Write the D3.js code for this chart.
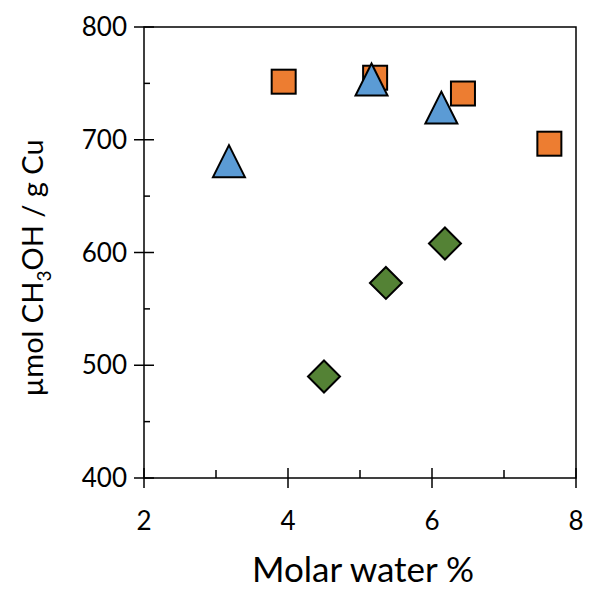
<!DOCTYPE html>
<html>
<head>
<meta charset="utf-8">
<script src="https://cdn.jsdelivr.net/npm/d3@7"></script>
<style>
  body { margin: 0; background: #fff; }
  text { font-family: Lato, "Open Sans", sans-serif; fill: #000; }
</style>
</head>
<body>
<svg id="chart" width="592" height="592"></svg>
<script>
// values
const squaresX = [3.94, 5.21, 6.43, 7.63];
const squaresY = [751.5, 755, 741, 696.5];
const trianglesX = [3.18, 5.16, 6.13];
const trianglesY = [681, 753.5, 728.5];
const diamondsX = [4.5, 5.36, 6.18];
const diamondsY = [490, 573, 608];

const xTicks = [2, 4, 6, 8];
const xMinor = [3, 5, 7];
const yTicks = [400, 500, 600, 700, 800];
const yMinor = [450, 550, 650, 750];

const svg = d3.select("#chart");
const x = d3.scaleLinear().domain([2, 8]).range([144, 576]);
const y = d3.scaleLinear().domain([400, 800]).range([478, 27]);

// frame
svg.append("rect")
  .attr("x", x(2)).attr("y", y(800))
  .attr("width", x(8) - x(2)).attr("height", y(400) - y(800))
  .attr("fill", "none").attr("stroke", "#000").attr("stroke-width", 1.5);

const ticks = svg.append("g").attr("stroke", "#000").attr("stroke-width", 1.5);
xTicks.forEach((d) => {
  ticks.append("line").attr("x1", x(d)).attr("x2", x(d))
    .attr("y1", y(400) - 10).attr("y2", y(400) + 10);
});
xMinor.forEach((d) => {
  ticks.append("line").attr("x1", x(d)).attr("x2", x(d))
    .attr("y1", y(400) - 8).attr("y2", y(400));
});
yTicks.forEach((d) => {
  ticks.append("line").attr("y1", y(d)).attr("y2", y(d))
    .attr("x1", x(2) - 10).attr("x2", x(2) + 10);
});
yMinor.forEach((d) => {
  ticks.append("line").attr("y1", y(d)).attr("y2", y(d))
    .attr("x1", x(2)).attr("x2", x(2) + 6);
});

// tick labels
svg.append("g").selectAll("text").data(xTicks).join("text")
  .attr("x", (d) => x(d)).attr("y", 530)
  .attr("text-anchor", "middle").style("font-size", "26px")
  .text((d) => d);
svg.append("g").selectAll("text").data(yTicks).join("text")
  .attr("x", 127).attr("y", (d) => y(d) + 9)
  .attr("text-anchor", "end").style("font-size", "26px")
  .text((d) => d);

// axis titles
svg.append("text")
  .attr("x", 363).attr("y", 582)
  .attr("text-anchor", "middle").style("font-size", "35px")
  .text("Molar water %");

const yl = svg.append("text")
  .attr("transform", "translate(43,268) rotate(-90)")
  .attr("text-anchor", "middle").style("font-size", "29px");
yl.append("tspan").text("µmol CH");
yl.append("tspan").attr("dy", 8).style("font-size", "19px").text("3");
yl.append("tspan").attr("dy", -8).text("OH / g Cu");

// markers
const marks = svg.append("g").attr("stroke", "#000").attr("stroke-width", 2);
const sq = 24;
marks.selectAll("rect.sq").data(squaresX).join("rect")
  .attr("class", "sq")
  .attr("x", (d) => x(d) - sq / 2)
  .attr("y", (d, i) => y(squaresY[i]) - sq / 2)
  .attr("width", sq).attr("height", sq)
  .attr("fill", "#ED7D31");

const tw = 32, th = 32;
marks.selectAll("path.tri").data(trianglesX).join("path")
  .attr("class", "tri")
  .attr("d", (d, i) => {
    const cx = x(d), cy = y(trianglesY[i]);
    return `M${cx},${cy - th / 2}L${cx + tw / 2},${cy + th / 2}L${cx - tw / 2},${cy + th / 2}Z`;
  })
  .attr("fill", "#5B9BD5");

const dr = 16;
marks.selectAll("path.dia").data(diamondsX).join("path")
  .attr("class", "dia")
  .attr("d", (d, i) => {
    const cx = x(d), cy = y(diamondsY[i]);
    return `M${cx},${cy - dr}L${cx + dr},${cy}L${cx},${cy + dr}L${cx - dr},${cy}Z`;
  })
  .attr("fill", "#548235");
</script>
</body>
</html>
